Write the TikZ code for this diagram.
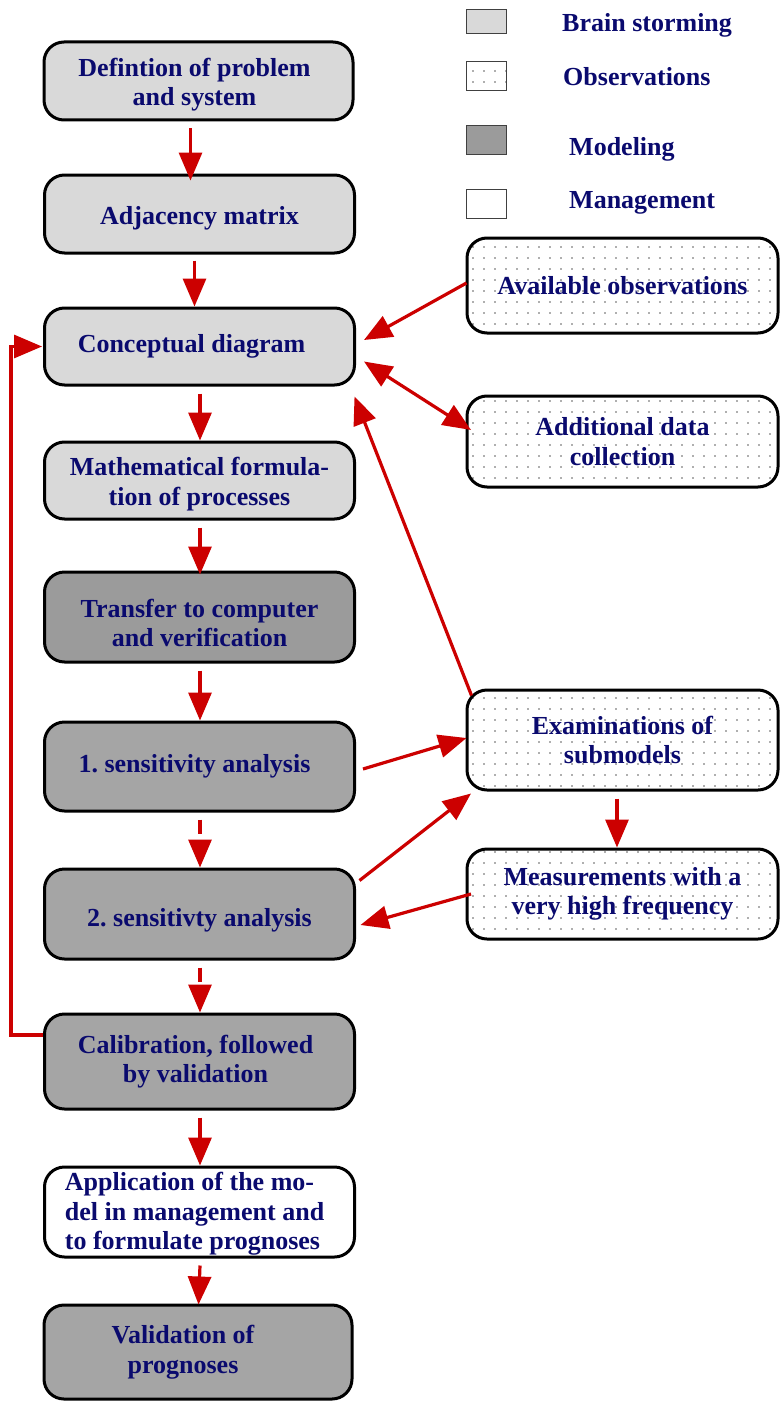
\documentclass[tikz,border=0pt]{standalone}
\usepackage{fontspec}
\setmainfont{Liberation Serif}
\usetikzlibrary{arrows.meta,patterns.meta}

\definecolor{navytext}{RGB}{10,10,110}
\definecolor{lightgr}{RGB}{217,217,217}
\definecolor{darkgr}{RGB}{165,165,165}
\definecolor{darkergr}{RGB}{155,155,155}
\definecolor{dotgr}{RGB}{95,95,95}
\definecolor{arrred}{RGB}{204,0,0}

\newcommand{\boxfont}{\fontsize{26}{29.5}\selectfont\bfseries\frenchspacing}
% strut that makes the first line taller, so the text sits lower in its box
\newcommand{\lift}[1]{\rule{0pt}{#1}}
% trailing space that moves a centred line to the left
\newcommand{\pushleft}[1]{\hspace*{#1}}

\tikzset{
  box/.style={draw=black, line width=3pt, rounded corners=20pt,
    minimum width=310pt, inner sep=0pt, align=center,
    text=navytext, font=\boxfont},
  brain/.style={box, fill=lightgr},
  model/.style={box, fill=darkgr},
  obs/.style={box, preaction={fill=white},
    pattern={Dots[distance=11pt,radius=0.9pt]}, pattern color=dotgr},
  mgmt/.style={box, fill=white},
  legbox/.style={draw=black!75, line width=1.6pt, minimum width=40pt, inner sep=0pt},
  legtext/.style={anchor=base west, text=navytext, font=\boxfont, inner sep=0pt},
  tip/.tip={Triangle[length=28pt,width=23pt]},
  arr/.style={draw=arrred, line width=3.2pt, -tip},
  darr/.style={arr, dash pattern=on 14pt off 10pt},
  biarr/.style={draw=arrred, line width=3.2pt, tip-tip},
}

\begin{document}
\begin{tikzpicture}[x=1pt,y=-1pt]
  % page frame
  \fill[white] (0,0) rectangle (782,1402);
  \useasboundingbox (0,0) rectangle (782,1402);

  % legend
  \node[legbox, fill=lightgr, minimum height=24pt] (legB) at (486.5,21.5) {};
  \node[legbox, pattern={Dots[distance=11pt,radius=0.9pt]}, pattern color=dotgr,
        minimum height=29pt] (legO) at (486.5,76) {};
  \node[legbox, fill=darkergr, minimum height=29pt] (legM) at (486.5,140) {};
  \node[legbox, fill=white, minimum height=29pt] (legG) at (486.5,204) {};
  \node[legtext] (legBt) at (562,32) {Brain storming};
  \node[legtext] (legOt) at (563,86) {Observations};
  \node[legtext] (legMt) at (569,155) {Modeling};
  \node[legtext] (legGt) at (569,208) {Management};

  % main chain
  \node[brain, minimum width=309pt, minimum height=78pt] (def) at (198.5,81)
    {\lift{26pt}Defintion of problem\pushleft{8pt}\\and system\pushleft{8pt}};
  \node[brain, minimum height=78pt] (adj) at (199.5,214) {\lift{26pt}Adjacency matrix};
  \node[brain, minimum height=77pt] (conc) at (199.5,346.5)
    {Conceptual diagram\pushleft{16pt}};
  \node[brain, minimum height=77pt] (math) at (199.5,480.5)
    {\lift{26pt}Mathematical formula-\\tion of processes};
  \node[model, fill=darkergr, minimum height=90pt] (trans) at (199.5,617)
    {\lift{30pt}Transfer to computer\\and verification};
  \node[model, minimum height=89pt] (sensA) at (199.5,766.5)
    {1. sensitivity analysis\pushleft{10pt}};
  \node[model, minimum height=90pt] (sensB) at (199.5,914) {\lift{30pt}2. sensitivty analysis};
  \node[model, minimum height=95pt] (calib) at (199.5,1061.5)
    {Calibration, followed\pushleft{8pt}\\by validation\pushleft{8pt}};
  \node[mgmt, minimum height=90pt, align=left] (app) at (199.5,1212)
    {\lift{22pt}Application of the mo-\pushleft{20pt}\\del in management and\\to formulate prognoses};
  \node[model, minimum width=308pt, minimum height=94pt] (valid) at (198,1352)
    {Validation of\pushleft{30pt}\\prognoses\pushleft{30pt}};

  % observation boxes
  \node[obs, minimum width=311pt, minimum height=95pt] (avail) at (622.5,285.5)
    {Available observations};
  \node[obs, minimum width=311pt, minimum height=91pt] (addl) at (622.5,441.5)
    {Additional data\\collection};
  \node[obs, minimum width=311pt, minimum height=100pt] (exam) at (622.5,740)
    {Examinations of\\submodels};
  \node[obs, minimum width=311pt, minimum height=90pt] (meas) at (622.5,894)
    {Measurements with a\\very high frequency};

  % vertical flow
  \draw[arr] ([xshift=-8pt,yshift=-7pt]def.south) -- ([xshift=-9pt,yshift=-7pt]adj.north);
  \draw[arr] ([xshift=-5pt,yshift=-6pt]adj.south) -- ([xshift=-5pt]conc.north);
  \draw[arr] ([xshift=0.5pt,yshift=-7pt]conc.south) -- ([xshift=0.5pt]math.north);
  \draw[arr] ([xshift=0.5pt,yshift=-7pt]math.south) -- ([xshift=0.5pt,yshift=-4pt]trans.north);
  \draw[arr] ([xshift=0.5pt,yshift=-7pt]trans.south) -- ([xshift=0.5pt]sensA.north);
  \draw[darr] ([xshift=0.5pt,yshift=-7pt]sensA.south) -- ([xshift=0.5pt]sensB.north);
  \draw[darr] ([xshift=0.5pt,yshift=-7pt]sensB.south) -- ([xshift=0.5pt]calib.north);
  \draw[arr] ([xshift=0.5pt,yshift=-7pt]calib.south) -- ([xshift=0.5pt]app.north);
  \draw[darr] ([xshift=0.5pt,yshift=-7pt]app.south) -- ([xshift=0.5pt,yshift=-1pt]valid.north);

  % feedback loop from calibration
  \draw[arr] ([yshift=26.5pt]calib.west) -- ++(-32,0) |- ([xshift=-1pt]conc.west);

  % observation links
  \draw[arr] ([xshift=1pt,yshift=2.5pt]avail.west) -- ([xshift=8pt,yshift=6.5pt]conc.east);
  \draw[biarr] ([xshift=8pt,yshift=-15pt]conc.east) -- ([xshift=5.5pt,yshift=11.5pt]addl.west);
  \draw[arr] ([xshift=6pt,yshift=-7pt]exam.north west) -- ([xshift=-1.5pt,yshift=-10pt]conc.south east);
  \draw[arr] ([xshift=7pt,yshift=-2.5pt]sensA.east) -- ([xshift=1pt,yshift=2pt]exam.west);
  \draw[arr] ([xshift=3.5pt,yshift=-13pt]sensB.north east) -- ([xshift=5.5pt,yshift=-2pt]exam.south west);
  \draw[arr] ([xshift=-5.5pt,yshift=-7pt]exam.south) -- ([xshift=-5.5pt]meas.north);
  \draw[arr] ([xshift=5.5pt]meas.west) -- ([xshift=4.5pt,yshift=-11pt]sensB.east);
\end{tikzpicture}
\end{document}
